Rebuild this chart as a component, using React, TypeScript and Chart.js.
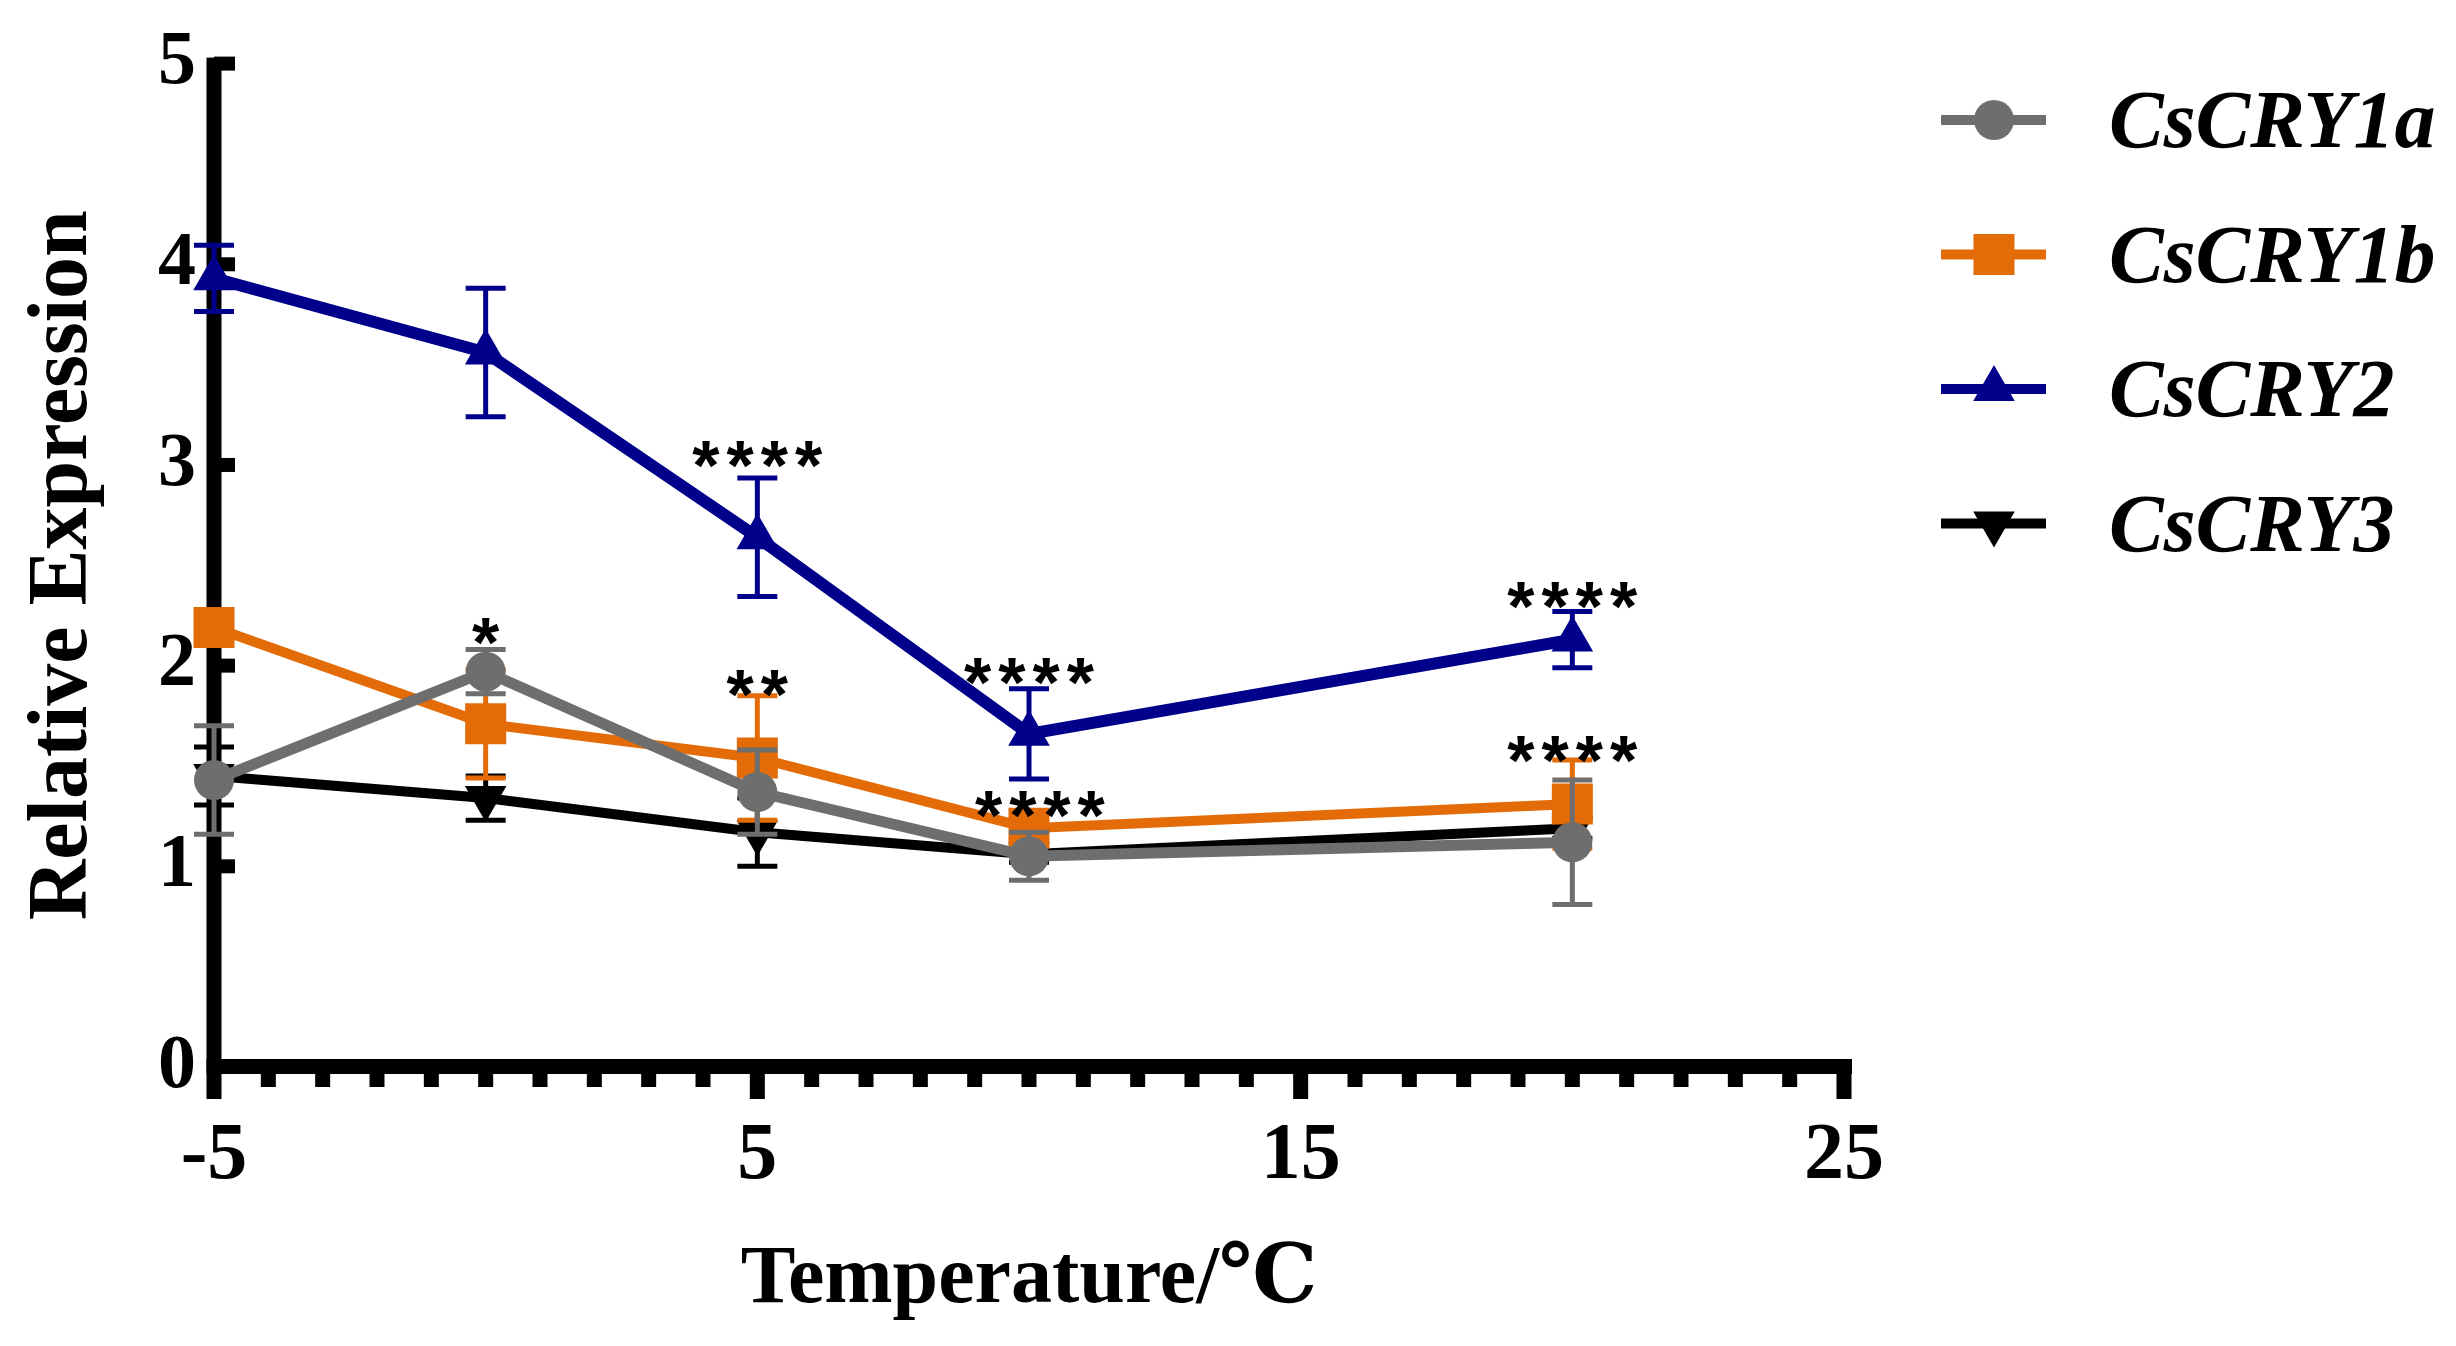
import { useEffect, useRef } from 'react'
import { Chart, registerables } from 'chart.js'
import { drawPoint } from 'chart.js/helpers'

Chart.register(...registerables)

// temperatures (°C) measured
const temps = [-5, 0, 5, 10, 20]
const xTicks = [-5, 5, 15, 25]

// mean relative expression and error (± SD) per gene
const cry1a = [1.43, 1.97, 1.37, 1.05, 1.12]
const cry1aErr = [0.27, 0.11, 0.21, 0.12, 0.31]
const cry1b = [2.19, 1.71, 1.54, 1.19, 1.31]
const cry1bErr = [0.05, 0.27, 0.31, 0.05, 0.22]
const cry2 = [3.93, 3.56, 2.64, 1.66, 2.13]
const cry2Err = [0.165, 0.32, 0.295, 0.225, 0.14]
const cry3 = [1.45, 1.34, 1.17, 1.06, 1.19]
const cry3Err = [0.145, 0.11, 0.17, 0.04, 0.05]

// significance marks
const starX = [0, 5, 5, 10, 10.2, 20, 20]
const starY = [2.17, 3.05, 1.91, 1.97, 1.31, 2.35, 1.58]
const starText = ['*', '****', '**', '****', '****', '****', '****']

const GRAY = '#6e6e6e'
const ORANGE = '#e36c09'
const BLUE = '#00008b'
const BLACK = '#000000'

const SERIF = '"Liberation Serif", "Times New Roman", "DejaVu Serif", serif'
const SANS = '"Liberation Sans", Arial, sans-serif'

const toPoints = (ys: number[]) => temps.map((t, i) => ({ x: t, y: ys[i] }))

// axes drawn Prism style: thick lines, inward y ticks, minor x ticks
const prismAxes = {
  id: 'prismAxes',
  beforeDatasetsDraw(chart: any) {
    const { ctx } = chart
    const x = chart.scales.x
    const y = chart.scales.y
    const x0 = x.getPixelForValue(-5)
    const x1 = x.getPixelForValue(25)
    const y0 = y.getPixelForValue(0)
    const yTop = y.getPixelForValue(5)
    ctx.save()
    ctx.fillStyle = '#000'
    ctx.fillRect(x0 - 7.5, yTop - 6, 15, y0 + 32 - (yTop - 6))
    ctx.fillRect(x0 - 7.5, y0 - 8, x1 + 8 - (x0 - 7.5), 15)
    for (let v = 0; v <= 5; v++) {
      const py = y.getPixelForValue(v)
      ctx.fillRect(x0, py - 7, 21, 14)
    }
    for (let v = -4; v <= 25; v++) {
      const px = x.getPixelForValue(v)
      const major = xTicks.includes(v)
      ctx.fillRect(px - 7.5, y0, 15, major ? 32 : 20)
    }
    ctx.restore()
  },
}

const errorBars = {
  id: 'errorBars',
  beforeDatasetDraw(chart: any, args: any) {
    const ds = chart.data.datasets[args.index]
    const errs: number[] = ds.errors
    if (!errs) return
    const { ctx } = chart
    const x = chart.scales.x
    const y = chart.scales.y
    ctx.save()
    ctx.strokeStyle = ds.borderColor
    ctx.lineWidth = 5
    ds.data.forEach((p: any, i: number) => {
      const px = x.getPixelForValue(p.x)
      const top = y.getPixelForValue(p.y + errs[i])
      const bot = y.getPixelForValue(p.y - errs[i])
      ctx.beginPath()
      ctx.moveTo(px, top)
      ctx.lineTo(px, bot)
      ctx.moveTo(px - 20, top)
      ctx.lineTo(px + 20, top)
      ctx.moveTo(px - 20, bot)
      ctx.lineTo(px + 20, bot)
      ctx.stroke()
    })
    ctx.restore()
  },
}

const stars = {
  id: 'stars',
  afterDatasetsDraw(chart: any) {
    const { ctx } = chart
    const x = chart.scales.x
    const y = chart.scales.y
    ctx.save()
    ctx.fillStyle = '#000'
    ctx.font = `bold 70px ${SANS}`
    ;(ctx as any).letterSpacing = '7px'
    ctx.textAlign = 'center'
    ctx.textBaseline = 'alphabetic'
    starText.forEach((t, i) => {
      const m = ctx.measureText(t)
      const cy = y.getPixelForValue(starY[i])
      const dy = (m.actualBoundingBoxAscent - m.actualBoundingBoxDescent) / 2
      ctx.fillText(t, x.getPixelForValue(starX[i]) + 3.5, cy + dy)
    })
    ctx.restore()
  },
}

const sideLegend = {
  id: 'sideLegend',
  afterDraw(chart: any) {
    const { ctx } = chart
    ctx.save()
    chart.data.datasets.forEach((ds: any, i: number) => {
      const cy = 120 + i * 134.5
      ctx.strokeStyle = ds.borderColor
      ctx.fillStyle = ds.borderColor
      ctx.lineWidth = 10
      ctx.beginPath()
      ctx.moveTo(1941, cy)
      ctx.lineTo(2046, cy)
      ctx.stroke()
      drawPoint(ctx, {
        pointStyle: ds.pointStyle,
        rotation: ds.pointRotation || 0,
        radius: ds.pointRadius,
        borderWidth: 0,
      }, 1994, cy)
      ctx.fillStyle = '#000'
      ctx.font = `italic bold 82px ${SERIF}`
      ctx.textAlign = 'left'
      ctx.textBaseline = 'alphabetic'
      ctx.fillText(ds.label, 2109, cy + 27)
    })
    ctx.restore()
  },
}

export default function App() {
  const canvasRef = useRef<HTMLCanvasElement>(null)

  useEffect(() => {
    if (!canvasRef.current) return
    const common = {
      pointBorderWidth: 0,
      tension: 0,
      clip: false,
    }
    const chart = new Chart(canvasRef.current, {
      type: 'line',
      data: {
        datasets: [
          {
            ...common,
            label: 'CsCRY1a',
            data: toPoints(cry1a),
            errors: cry1aErr,
            borderColor: GRAY,
            backgroundColor: GRAY,
            pointBackgroundColor: GRAY,
            borderWidth: 11,
            pointStyle: 'circle',
            pointRadius: 20,
            order: 1,
          },
          {
            ...common,
            label: 'CsCRY1b',
            data: toPoints(cry1b),
            errors: cry1bErr,
            borderColor: ORANGE,
            backgroundColor: ORANGE,
            pointBackgroundColor: ORANGE,
            borderWidth: 10,
            pointStyle: 'rect',
            pointRadius: 29,
            order: 2,
          },
          {
            ...common,
            label: 'CsCRY2',
            data: toPoints(cry2),
            errors: cry2Err,
            borderColor: BLUE,
            backgroundColor: BLUE,
            pointBackgroundColor: BLUE,
            borderWidth: 12,
            pointStyle: 'triangle',
            pointRadius: 24,
            order: 0,
          },
          {
            ...common,
            label: 'CsCRY3',
            data: toPoints(cry3),
            errors: cry3Err,
            borderColor: BLACK,
            backgroundColor: BLACK,
            pointBackgroundColor: BLACK,
            borderWidth: 10,
            pointStyle: 'triangle',
            pointRotation: 180,
            pointRadius: 24,
            order: 3,
          },
        ] as any,
      },
      options: {
        animation: false,
        responsive: true,
        maintainAspectRatio: false,
        events: [],
        layout: { padding: { top: 53, right: 612, bottom: 0, left: 0 } },
        plugins: {
          legend: { display: false },
          tooltip: { enabled: false },
        },
        scales: {
          x: {
            type: 'linear',
            min: -5,
            max: 25,
            afterBuildTicks: (scale: any) => {
              scale.ticks = xTicks.map((v) => ({ value: v }))
            },
            afterFit: (scale: any) => {
              scale.height = 279
            },
            grid: { display: false, drawTicks: false },
            border: { display: false },
            ticks: {
              color: '#000',
              padding: 42,
              maxRotation: 0,
              autoSkip: false,
              font: { family: SERIF, size: 80, weight: 'bold' },
            },
            title: {
              display: true,
              text: 'Temperature/℃',
              color: '#000',
              padding: { top: 0, bottom: 16 },
              font: { family: SERIF, size: 82, weight: 'bold' },
            },
          },
          y: {
            min: 0,
            max: 5,
            afterFit: (scale: any) => {
              scale.width = 214
            },
            grid: { display: false, drawTicks: false },
            border: { display: false },
            ticks: {
              stepSize: 1,
              color: '#000',
              padding: 18,
              font: { family: SERIF, size: 76, weight: 'bold' },
            },
            title: {
              display: true,
              text: 'Relative Expression',
              color: '#000',
              padding: { top: 14, bottom: 0 },
              font: { family: SERIF, size: 84, weight: 'bold' },
            },
          },
        },
      } as any,
      plugins: [prismAxes, errorBars, stars, sideLegend],
    })
    return () => chart.destroy()
  }, [])

  return (
    <div
      style={{
        position: 'fixed',
        left: 0,
        top: 0,
        width: 2456,
        height: 1346,
        background: '#fff',
      }}
    >
      <canvas ref={canvasRef} />
    </div>
  )
}
